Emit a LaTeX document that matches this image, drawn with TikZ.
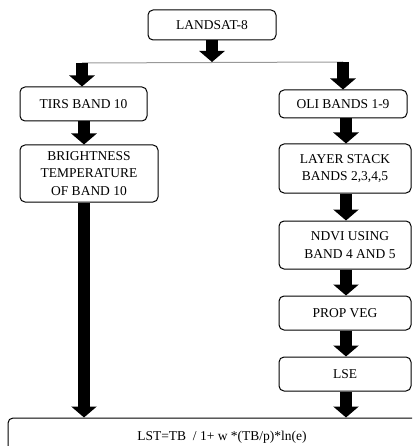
\documentclass[tikz,border=0pt]{standalone}
\usepackage{fontspec}
\setmainfont{Liberation Serif}
\usetikzlibrary{arrows.meta}
\begin{document}
\begin{tikzpicture}[x=1pt,y=-1pt,
  flowbox/.style={draw=black, line width=1pt, rounded corners=5pt, fill=white,
    inner sep=0pt, align=center,
    font=\fontsize{13.5pt}{17.3pt}\selectfont},
  blockarrow/.style={line width=12pt, black,
    -{Triangle[width=25pt,length=11pt]}},
  branchline/.style={draw=gray!80, line width=1pt}]
  \clip (0,0) rectangle (412,446);
  \fill[white] (0,0) rectangle (412,446);

  % boxes
  \node[flowbox, minimum width=128pt, minimum height=30pt] (land) at (212,25) {LANDSAT-8};
  \node[flowbox, minimum width=127pt, minimum height=34pt] (tirs) at (83.5,104) {TIRS BAND 10};
  \node[flowbox, minimum width=128pt, minimum height=28pt] (oli) at (343,104) {OLI BANDS 1-9};
  \node[flowbox, minimum width=138pt, minimum height=57pt] (bt) at (89,173.5)
    {BRIGHTNESS\\TEMPERATURE\\OF BAND 10};
  \node[flowbox, minimum width=132pt, minimum height=49pt] (layer) at (345,168.5)
    {LAYER STACK\\BANDS 2,3,4,5};
  \node[flowbox, minimum width=132pt, minimum height=48pt] (ndvi) at (345,245)
    {\hspace*{10pt}NDVI USING\\\hspace*{10pt}BAND 4 AND 5};
  \node[flowbox, minimum width=132pt, minimum height=34pt] (prop) at (345,313) {PROP VEG};
  \node[flowbox, minimum width=132pt, minimum height=34pt] (lse) at (345,374) {LSE};
  \node[flowbox, minimum width=428pt, minimum height=38pt] (lst) at (222,437)
    {LST=TB~ / 1+ w *(TB/p)*ln(e)};

  % branch from the satellite to the two sensors
  \coordinate (split) at (212,62);
  \coordinate (jl) at (82,63);
  \coordinate (jr) at (343,62);
  \draw[branchline] (jl) -- (jr);
  \draw[blockarrow] (land.south) -- (split);
  \draw[blockarrow] (jl) -- (jl |- tirs.north);
  \draw[blockarrow] (jr) -- (jr |- oli.north);

  % thermal column
  \coordinate (tcol) at (84,0);
  \draw[blockarrow] (tcol |- tirs.south) -- (tcol |- bt.north);
  \draw[blockarrow] (tcol |- bt.south) -- (tcol |- lst.north);

  % optical column
  \coordinate (rcol) at (346,0);
  \draw[blockarrow] (rcol |- oli.south) -- (rcol |- layer.north);
  \draw[blockarrow] (rcol |- layer.south) -- (rcol |- ndvi.north);
  \draw[blockarrow] (rcol |- ndvi.south) -- (rcol |- prop.north);
  \draw[blockarrow] (rcol |- prop.south) -- (rcol |- lse.north);
  \draw[blockarrow] (rcol |- lse.south) -- (rcol |- lst.north);
\end{tikzpicture}
\end{document}
